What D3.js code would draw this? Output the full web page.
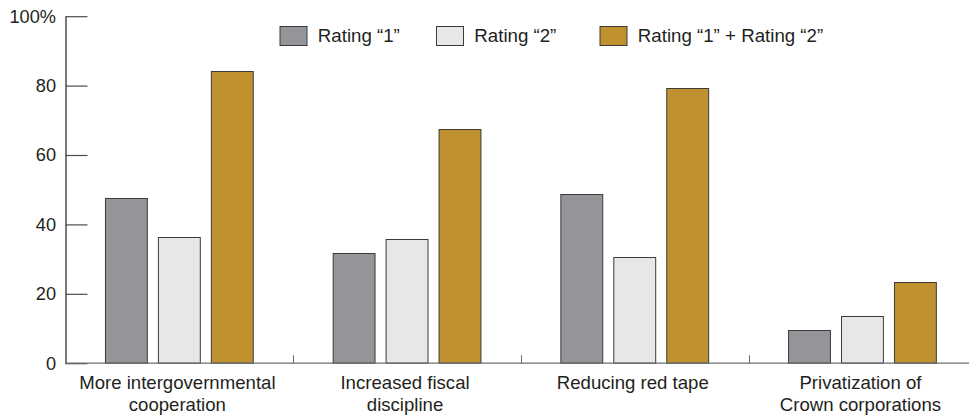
<!DOCTYPE html>
<html>
<head>
<meta charset="utf-8">
<script src="https://cdn.jsdelivr.net/npm/d3@7"></script>
<style>
  html, body { margin: 0; padding: 0; background: #fff; }
  svg { display: block; font-family: "Liberation Sans", Arial, Helvetica, sans-serif; }
</style>
</head>
<body>
<svg id="chart" width="969" height="415"></svg>
<script>
// Categories (two-line labels) and the share of respondents per rating
const categories = [
  ["More intergovernmental", "cooperation"],
  ["Increased fiscal", "discipline"],
  ["Reducing red tape"],
  ["Privatization of", "Crown corporations"]
];
const seriesNames = ["Rating \u201c1\u201d", "Rating \u201c2\u201d", "Rating \u201c1\u201d + Rating \u201c2\u201d"];
const rating1 = [47.5, 31.8, 48.7, 9.6];
const rating2 = [36.5, 35.7, 30.5, 13.7];
const ratingSum = [84.2, 67.5, 79.2, 23.3];
const yTicks = [0, 20, 40, 60, 80, 100];
const colors = ["#939598", "#e6e7e8", "#c0912f"];

const series = [rating1, rating2, ratingSum];
const svg = d3.select("#chart");
const catKeys = categories.map((c, i) => i);

const x0 = d3.scaleBand().domain(catKeys).range([65.5, 976.3]).padding(0);
const x1 = d3.scaleBand().domain(d3.range(series.length))
  .range([0, x0.bandwidth()]).paddingInner(0.19).paddingOuter(0.745);
const y = d3.scaleLinear().domain([0, 100]).range([363.2, 16.2]);

// Bars
const groups = svg.append("g").selectAll("g")
  .data(catKeys).join("g")
  .attr("transform", d => `translate(${x0(d)},0)`);

groups.selectAll("rect")
  .data(ci => series.map((s, si) => ({ si, v: s[ci] })))
  .join("rect")
  .attr("x", d => x1(d.si) + 0.5)
  .attr("y", d => Math.round(y(d.v)) + 0.5)
  .attr("width", x1.bandwidth() - 1)
  .attr("height", d => y(0) - Math.round(y(d.v)) - 0.5)
  .attr("fill", d => colors[d.si])
  .attr("stroke", "#3b3b3b")
  .attr("stroke-width", 1);

// Y axis: ticks point inward, labels on the left
const yAxis = d3.axisLeft(y)
  .tickValues(yTicks)
  .tickSize(-22)
  .tickSizeOuter(0)
  .tickPadding(9.5)
  .tickFormat(d => d === 100 ? "100%" : d);

const gy = svg.append("g")
  .attr("transform", "translate(65.5,0)")
  .call(yAxis);
gy.select(".domain").attr("stroke", "#231f20").attr("stroke-width", 1.2);
gy.selectAll(".tick line").attr("stroke", "#4d4d4f").attr("stroke-width", 1.2);
gy.selectAll(".tick text")
  .attr("fill", "#231f20")
  .attr("font-size", 18.2)
  .attr("font-family", "\"Liberation Sans\", Arial, Helvetica, sans-serif");

// X axis baseline with short separators between categories
const gx = svg.append("g");
gx.append("line")
  .attr("x1", 65.5).attr("x2", 969)
  .attr("y1", y(0)).attr("y2", y(0))
  .attr("stroke", "#6d6e71").attr("stroke-width", 1.3);
gx.selectAll("line.sep")
  .data(catKeys.slice(1))
  .join("line")
  .attr("class", "sep")
  .attr("x1", d => Math.round(x0(d)) + 0.5).attr("x2", d => Math.round(x0(d)) + 0.5)
  .attr("y1", y(0) - 8).attr("y2", y(0))
  .attr("stroke", "#6d6e71").attr("stroke-width", 1);

// Category labels
gx.selectAll("text.cat")
  .data(catKeys)
  .join("text")
  .attr("class", "cat")
  .attr("text-anchor", "middle")
  .attr("font-size", 18.6)
  .attr("fill", "#231f20")
  .each(function (d) {
    const t = d3.select(this);
    categories[d].forEach((line, i) => {
      t.append("tspan")
        .attr("x", x0(d) + x0.bandwidth() / 2 - 2)
        .attr("y", 388.5 + i * 22.5)
        .text(line);
    });
  });

// Legend
const legendX = [279.5, 436, 599.5];
const legend = svg.append("g").selectAll("g")
  .data(seriesNames)
  .join("g")
  .attr("transform", (d, i) => `translate(${legendX[i]},26)`);
legend.append("rect")
  .attr("x", 0.5).attr("y", 0.5)
  .attr("width", 27).attr("height", 19)
  .attr("fill", (d, i) => colors[i])
  .attr("stroke", "#3b3b3b").attr("stroke-width", 1);
legend.append("text")
  .attr("x", 38.3).attr("y", 16)
  .attr("font-size", 18.7)
  .attr("fill", "#231f20")
  .text(d => d);
</script>
</body>
</html>
